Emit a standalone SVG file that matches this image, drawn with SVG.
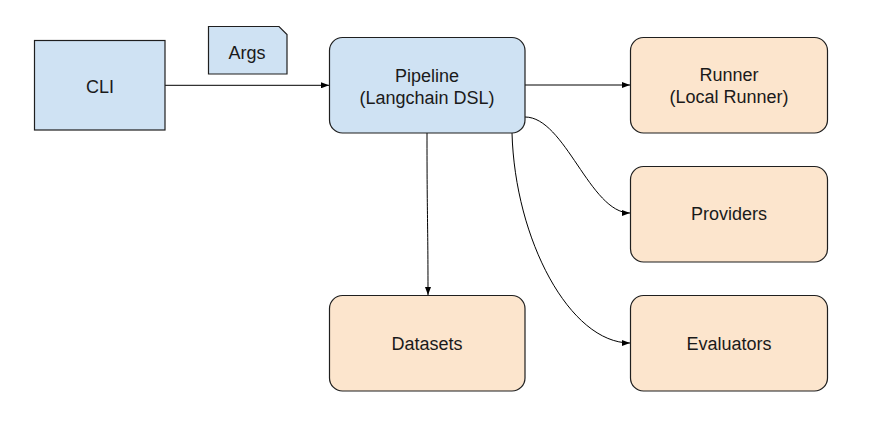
<svg xmlns="http://www.w3.org/2000/svg" width="874" height="421" viewBox="0 0 874 421">
<defs>
<style>
.blue{fill:#cfe2f3;stroke:#1f1f1f;stroke-width:1.2}
.orange{fill:#fce5cd;stroke:#1f1f1f;stroke-width:1.2}
.t{font-family:"Liberation Sans",Arial,sans-serif;font-size:18px;fill:#1a1a1a;text-anchor:middle}
.c{fill:none;stroke:#000;stroke-width:1}
</style>
<marker id="ah" viewBox="0 0 8 6" refX="8" refY="3" markerWidth="8" markerHeight="6" markerUnits="userSpaceOnUse" orient="auto">
<path d="M0,0 L8,3 L0,6 Z" fill="#000"/>
</marker>
</defs>
<rect width="874" height="421" fill="#fff"/>
<g id="connectors">
<path class="c" d="M165,85.3 L329,85.3" marker-end="url(#ah)"/>
<path class="c" d="M525,85 L630,85" marker-end="url(#ah)"/>
<path class="c" d="M525,117 C565,117 590,213 630,213" marker-end="url(#ah)"/>
<path class="c" d="M512,133 C515,240 570,343 630,343" marker-end="url(#ah)"/>
<path class="c" d="M427,133 C427,220 428,220 428,295" marker-end="url(#ah)"/>
</g>
<g id="cli">
<rect class="blue" x="34.5" y="40.5" width="130.5" height="89.5"/>
<text class="t" x="100" y="92.5">CLI</text>
</g>
<g id="args">
<path class="blue" d="M208.5,26.5 L279,26.5 L287,34.5 L287,74 L208.5,74 Z"/>
<text class="t" x="247" y="58.5">Args</text>
</g>
<g id="pipeline">
<rect class="blue" x="329.5" y="37.5" width="195.5" height="95.5" rx="13"/>
<text class="t" x="427" y="81.5">Pipeline</text>
<text class="t" x="427" y="103.5">(Langchain DSL)</text>
</g>
<g id="runner">
<rect class="orange" x="630.5" y="37.5" width="197" height="95.5" rx="13"/>
<text class="t" x="729" y="81">Runner</text>
<text class="t" x="729" y="103">(Local Runner)</text>
</g>
<g id="providers">
<rect class="orange" x="630.5" y="166.5" width="197" height="95.5" rx="13"/>
<text class="t" x="729" y="220">Providers</text>
</g>
<g id="datasets">
<rect class="orange" x="329.5" y="295.5" width="195.5" height="95.5" rx="13"/>
<text class="t" x="427" y="349.5">Datasets</text>
</g>
<g id="evaluators">
<rect class="orange" x="630.5" y="295.5" width="197" height="95.5" rx="13"/>
<text class="t" x="729" y="349.5">Evaluators</text>
</g>
</svg>
